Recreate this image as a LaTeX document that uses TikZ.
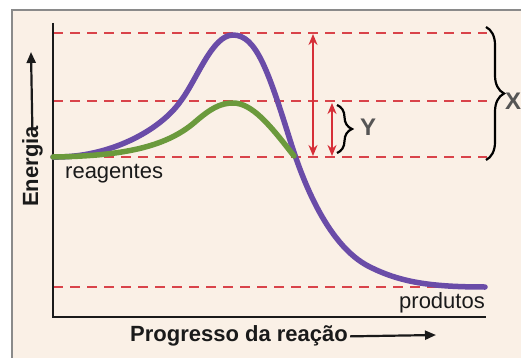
\documentclass[tikz,border=0pt]{standalone}
\usepackage{fontspec}
\setmainfont{Liberation Sans}
\usetikzlibrary{arrows.meta,decorations.pathreplacing}
\definecolor{bg}{HTML}{FAF0E6}
\definecolor{dashred}{HTML}{D9434A}
\definecolor{arrred}{HTML}{D62F38}
\definecolor{purp}{HTML}{6A4CA8}
\definecolor{grn}{HTML}{6B9A3C}
\definecolor{framec}{HTML}{8A8A8A}
\definecolor{lblgray}{HTML}{555555}
\definecolor{axcol}{HTML}{1A1A1A}
\begin{document}
\begin{tikzpicture}[x=1pt,y=-1pt,
  level/.style={dashred,line width=2.2pt,dash pattern=on 10pt off 7pt},
  curve/.style={line width=5.5pt,line cap=round,line join=round},
  redarrow/.style={arrred,line width=2pt,{Stealth[length=11pt,width=9pt]}-{Stealth[length=11pt,width=9pt]}},
  axarrow/.style={axcol,line width=2.2pt,-{Triangle[length=11pt,width=9pt]}},
  bigbrace/.style={decorate,line width=2.2pt,black},
  lbl/.style={inner sep=0pt,font=\fontsize{22}{26}\selectfont,text=axcol},
  blbl/.style={inner sep=0pt,font=\bfseries\fontsize{22}{26}\selectfont,text=axcol},
  letter/.style={inner sep=0pt,font=\bfseries\fontsize{24}{28}\selectfont,text=lblgray}]
\useasboundingbox (0,0) rectangle (521,358);
\fill[white] (0,0) rectangle (521,358);
\fill[bg] (12,11) rectangle (521,358);
\draw[framec,line width=2pt] (11.5,358) -- (11.5,10.5) -- (521,10.5);
% dashed levels
\coordinate (l1a) at (53,33);  \coordinate (l1b) at (487,33);
\coordinate (l2a) at (53,101); \coordinate (l2b) at (487,101);
\coordinate (l3a) at (53,157); \coordinate (l3b) at (487,157);
\coordinate (l4a) at (53,287); \coordinate (l4b) at (485,287);
\draw[level] (l1a) -- (l1b);
\draw[level] (l2a) -- (l2b);
\draw[level] (l3a) -- (l3b);
\draw[level] (l4a) -- (l4b);
% axes
\coordinate (ytop) at (53,23);
\coordinate (orig) at (53,317);
\coordinate (xend) at (486,317);
\draw[axcol,line width=2.6pt] (ytop) -- (orig) -- (xend);
% curves
\draw[curve,purp] (53,157) .. controls (110,158) and (160,130) .. (180,102)
  .. controls (197,80) and (212,35) .. (233,35)
  .. controls (256,35) and (268,70) .. (290,140)
  .. controls (300,172) and (325,245) .. (370,267)
  .. controls (400,282) and (430,287) .. (485,287);
\draw[curve,grn] (53,157) .. controls (120,156) and (165,148) .. (195,122)
  .. controls (210,109) and (220,103) .. (233,103)
  .. controls (252,103) and (270,125) .. (294,156);
% red arrows
\coordinate (a1t) at (313,34); \coordinate (a1b) at (313,156);
\coordinate (a2t) at (332,103); \coordinate (a2b) at (332,156);
\draw[redarrow] (a1t) -- (a1b);
\draw[redarrow] (a2t) -- (a2b);
% braces
\coordinate (bxt) at (486,27); \coordinate (bxb) at (486,160);
\coordinate (byt) at (337,105); \coordinate (byb) at (337,153);
\draw[bigbrace,decoration={brace,amplitude=18pt}] (bxt) -- (bxb);
\draw[bigbrace,decoration={brace,amplitude=15pt}] (byt) -- (byb);
\node[letter,anchor=west] (Y) at (360,127) {Y};
\node[letter,anchor=west] (X) at (505,101) {X};
% labels
\node[lbl,anchor=base west] (reag) at (65,178) {reagentes};
\node[lbl,anchor=base east] (prod) at (485,308) {produtos};
\node[blbl,anchor=base west] (prog) at (130,341) {Progresso da reação};
\coordinate (xarr) at (436,335);
\draw[axarrow] ([xshift=2pt,yshift=-1pt]prog.east) -- (xarr);
\node[blbl,rotate=90,anchor=base west] (ener) at (38,207) {Energia};
\coordinate (yarr) at (31,52);
\draw[axarrow] ([yshift=-3pt]ener.east) -- (yarr);
\end{tikzpicture}
\end{document}
